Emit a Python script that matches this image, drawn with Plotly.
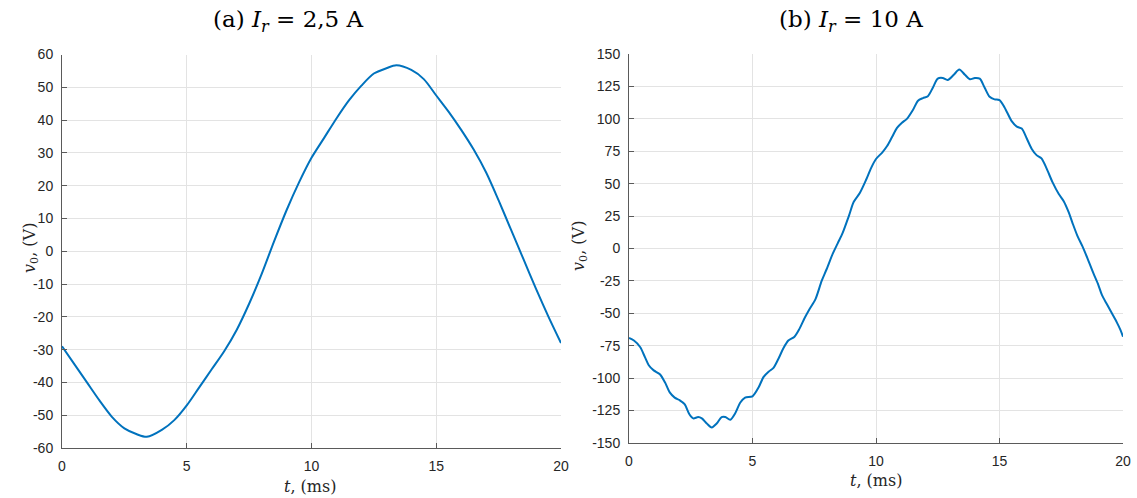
import plotly.graph_objects as go

# ---------------- data ----------------
t_a = [0, 0.5, 1.0, 1.5, 2.0, 2.5, 3.0, 3.4, 4.0, 4.5, 5.0, 5.5, 6.0, 6.5, 7.0, 7.5,
       8.0, 8.5, 9.0, 9.5, 10.0, 10.5, 11.0, 11.5, 12.0, 12.5, 13.0, 13.4, 14.0, 14.5,
       15.0, 15.5, 16.0, 16.5, 17.0, 17.5, 18.0, 18.5, 19.0, 19.5, 20.0]
v_a = [-29, -34.5, -40, -45.5, -50.5, -54, -55.8, -56.6, -54.5, -51.5, -47, -41.5, -36,
       -30.5, -24, -16, -7, 3, 12.5, 21, 28.5, 34.5, 40.5, 46, 50.5, 54.2, 55.8, 56.7,
       55.3, 52.5, 47.5, 42.5, 37, 31, 24, 15.5, 6.5, -2.5, -11.5, -20, -28]

t_b = [0.0, 0.2, 0.45, 0.65, 0.8, 1.0, 1.25, 1.45, 1.65, 1.85, 2.05, 2.25, 2.45, 2.6,
       2.8, 2.95, 3.15, 3.35, 3.55, 3.75, 3.9, 4.1, 4.3, 4.5, 4.7, 5.0, 5.25, 5.45, 5.65,
       5.85, 6.05, 6.25, 6.45, 6.7, 6.9, 7.1, 7.3, 7.55, 7.8, 8.0, 8.25, 8.45, 8.65, 8.9,
       9.1, 9.35, 9.6, 9.8, 10.0, 10.25, 10.45, 10.65, 10.85, 11.05, 11.25, 11.5, 11.7,
       11.9, 12.1, 12.3, 12.5, 12.7, 12.9, 13.15, 13.37, 13.6, 13.8, 14.0, 14.2, 14.4,
       14.6, 14.8, 15.0, 15.2, 15.5, 15.7, 15.9, 16.1, 16.3, 16.5, 16.7, 16.9, 17.15,
       17.4, 17.6, 17.8, 17.95, 18.15, 18.35, 18.55, 18.8, 19.0, 19.15, 19.35, 19.55,
       19.75, 19.9, 20.0]
v_b = [-69, -71, -76, -84, -90, -94, -97, -103, -111, -115, -117, -120, -128, -131,
       -130, -131, -135, -138, -135, -130, -130, -132, -127, -119, -115, -114, -107, -99,
       -95, -92, -85, -77, -71, -68, -62, -54, -47, -39, -25, -16, -4, 4, 12, 25,
       36, 43, 53, 62, 69, 74, 79, 86, 93, 97, 100, 107, 114,
       116, 117.5, 124, 131, 131.5, 130, 134, 138, 134, 130.5, 131.5, 131, 124,
       117, 115, 114.5, 109, 98, 94, 92.5, 85, 77, 72, 69.5, 62, 51,
       42, 36.5, 28, 20, 10, 2, -7, -19, -28, -36, -43, -50,
       -57, -63, -68]

x_ticks = [0, 5, 10, 15, 20]
x_ticklabels = ["0", "5", "10", "15", "20"]
ya_ticks = [-60, -50, -40, -30, -20, -10, 0, 10, 20, 30, 40, 50, 60]
ya_ticklabels = ["-60", "-50", "-40", "-30", "-20", "-10", "0", "10", "20", "30", "40", "50", "60"]
yb_ticks = [-150, -125, -100, -75, -50, -25, 0, 25, 50, 75, 100, 125, 150]
yb_ticklabels = ["-150", "-125", "-100", "-75", "-50", "-25", "0", "25", "50", "75", "100", "125", "150"]

titles = ["(a) <i>I</i><sub><i>r</i></sub> = 2,5 A", "(b) <i>I</i><sub><i>r</i></sub> = 10 A"]
xlabel = "<i>t</i>, (ms)"
ylabel = "<i>v</i><sub>0</sub>, (V)"

# ---------------- figure ----------------
W, H = 1137, 498
LINE = "#0072BD"
AXC = "#5a5a5a"
GRID = "#e3e3e3"
TICKFONT = dict(family="Liberation Sans, Arial, sans-serif", size=14, color="#262626")
SERIF = "DejaVu Serif, Liberation Serif, serif"


def px(x):
    return x / W


def py(y):
    return 1 - y / H


fig = go.Figure()
fig.add_trace(go.Scatter(x=t_a, y=v_a, mode="lines", xaxis="x", yaxis="y",
                         line=dict(color=LINE, width=2, shape="spline", smoothing=0.8),
                         showlegend=False))
fig.add_trace(go.Scatter(x=t_b, y=v_b, mode="lines", xaxis="x2", yaxis="y2",
                         line=dict(color=LINE, width=2, shape="spline", smoothing=0.8),
                         showlegend=False))

common_ax = dict(showgrid=True, gridcolor=GRID, gridwidth=1, zeroline=False,
                 showline=True, linecolor=AXC, linewidth=1, ticks="inside",
                 ticklen=5, tickcolor=AXC, tickwidth=1, tickfont=TICKFONT,
                 ticklabelstandoff=5, fixedrange=True, automargin=False)

fig.update_layout(
    width=W, height=H,
    margin=dict(l=0, r=0, t=0, b=0, autoexpand=False),
    paper_bgcolor="white", plot_bgcolor="white",
    xaxis=dict(domain=[px(62), px(561)], range=[0, 20], anchor="y",
               tickvals=x_ticks, ticktext=x_ticklabels, **common_ax),
    yaxis=dict(domain=[py(448), py(54.5)], range=[-60, 60], anchor="x",
               tickvals=ya_ticks, ticktext=ya_ticklabels, **common_ax),
    xaxis2=dict(domain=[px(629), px(1123)], range=[0, 20], anchor="y2",
                tickvals=x_ticks, ticktext=x_ticklabels, **common_ax),
    yaxis2=dict(domain=[py(443), py(54)], range=[-150, 150], anchor="x2",
                tickvals=yb_ticks, ticktext=yb_ticklabels, **common_ax),
)

ann = []
ann.append(dict(text=titles[0], x=px(288), y=py(21), xref="paper", yref="paper",
                showarrow=False, xanchor="center", yanchor="middle",
                font=dict(family=SERIF, size=23, color="#000000")))
ann.append(dict(text=titles[1], x=px(851), y=py(21), xref="paper", yref="paper",
                showarrow=False, xanchor="center", yanchor="middle",
                font=dict(family=SERIF, size=23, color="#000000")))
ann.append(dict(text=xlabel, x=px(310), y=py(486), xref="paper", yref="paper",
                showarrow=False, xanchor="center", yanchor="middle",
                font=dict(family=SERIF, size=16, color="#262626")))
ann.append(dict(text=xlabel, x=px(876), y=py(480), xref="paper", yref="paper",
                showarrow=False, xanchor="center", yanchor="middle",
                font=dict(family=SERIF, size=16, color="#262626")))
ann.append(dict(text=ylabel, x=px(30), y=py(248), xref="paper", yref="paper",
                showarrow=False, xanchor="center", yanchor="middle", textangle=-90,
                font=dict(family=SERIF, size=16, color="#262626")))
ann.append(dict(text=ylabel, x=px(580), y=py(246), xref="paper", yref="paper",
                showarrow=False, xanchor="center", yanchor="middle", textangle=-90,
                font=dict(family=SERIF, size=16, color="#262626")))
fig.update_layout(annotations=ann)

fig.write_html("out.html", config={"displayModeBar": False})
